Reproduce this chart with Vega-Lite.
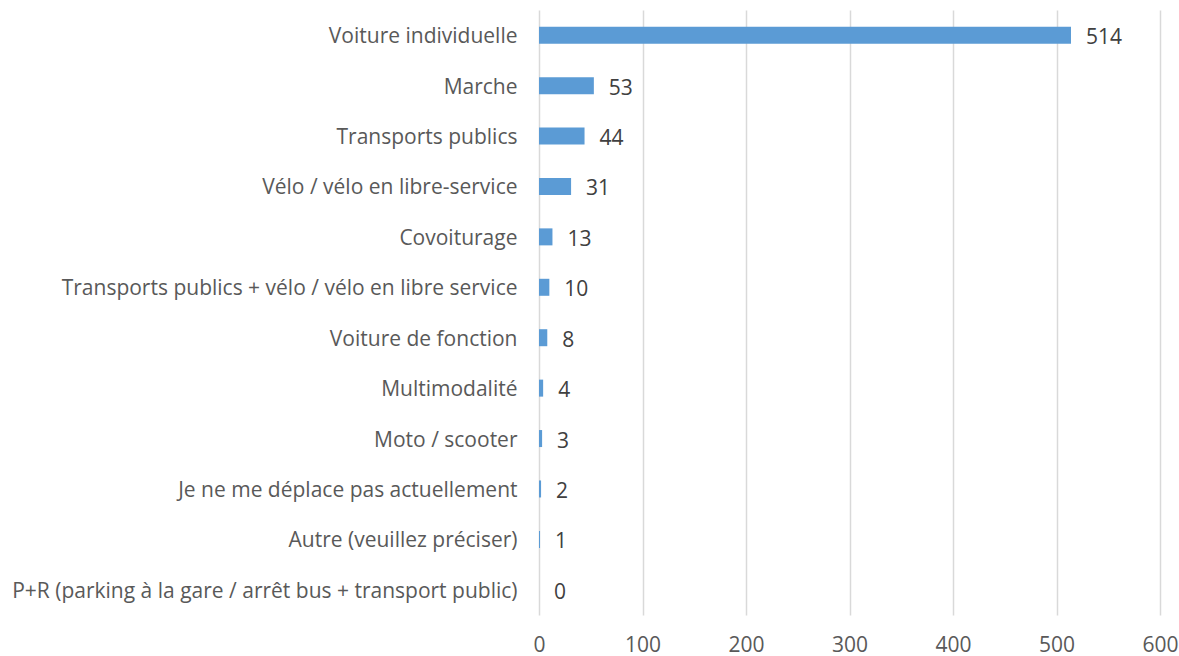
{
  "$schema": "https://vega.github.io/schema/vega-lite/v6.json",
  "width": 621,
  "height": 605,
  "autosize": {"type": "none"},
  "padding": {"left": 539, "top": 10, "right": 19, "bottom": 41},
  "background": "white",
  "config": {"view": {"stroke": null}, "font": "Open Sans"},
  "data": {"values": [
    {"mode": "Voiture individuelle", "n": 514},
    {"mode": "Marche", "n": 53},
    {"mode": "Transports publics", "n": 44},
    {"mode": "Vélo / vélo en libre-service", "n": 31},
    {"mode": "Covoiturage", "n": 13},
    {"mode": "Transports publics + vélo / vélo en libre service", "n": 10},
    {"mode": "Voiture de fonction", "n": 8},
    {"mode": "Multimodalité", "n": 4},
    {"mode": "Moto / scooter", "n": 3},
    {"mode": "Je ne me déplace pas actuellement", "n": 2},
    {"mode": "Autre (veuillez préciser)", "n": 1},
    {"mode": "P+R (parking à la gare / arrêt bus + transport public)", "n": 0}
  ]},
  "encoding": {
    "y": {"field": "mode", "type": "nominal", "sort": null, "title": null,
      "axis": {"ticks": false, "domain": false, "labelPadding": 22, "labelOffset": 2, "labelFontSize": 21, "labelColor": "#595959", "labelLimit": 600}},
    "x": {"field": "n", "type": "quantitative", "title": null,
      "scale": {"domain": [0, 600], "nice": false},
      "axis": {"values": [0,100,200,300,400,500,600], "ticks": false, "domain": false, "labelPadding": 19, "labelFontSize": 21, "labelColor": "#595959", "gridColor": "#d9d9d9", "gridWidth": 1.5, "labelFlush": false}}
  },
  "layer": [
    {"mark": {"type": "bar", "color": "#5B9BD5", "size": 17}},
    {"mark": {"type": "text", "align": "left", "baseline": "middle", "dx": 15, "dy": 3, "fontSize": 21, "color": "#404040"},
     "encoding": {"text": {"field": "n", "type": "quantitative"}}}
  ]
}
